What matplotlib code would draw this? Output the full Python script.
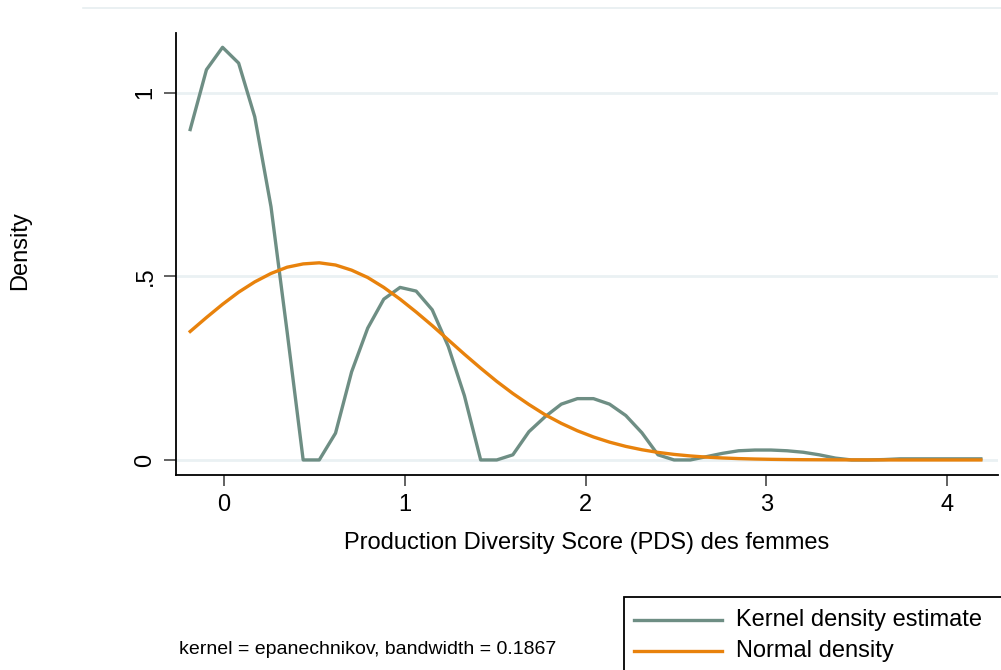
import matplotlib
matplotlib.use('Agg')
from matplotlib import pyplot as plt
from matplotlib.lines import Line2D
from matplotlib.patches import Rectangle

plt.rcParams['font.family'] = ['Liberation Sans', 'DejaVu Sans']

# grille d'évaluation (50 points)
x_grid = [-0.187, -0.097, -0.008, 0.081, 0.170, 0.260, 0.349, 0.438, 0.527, 0.617,
          0.706, 0.795, 0.884, 0.974, 1.063, 1.152, 1.241, 1.330, 1.420, 1.509,
          1.598, 1.687, 1.777, 1.866, 1.955, 2.044, 2.133, 2.223, 2.312, 2.401,
          2.490, 2.580, 2.669, 2.758, 2.847, 2.937, 3.026, 3.115, 3.204, 3.293,
          3.383, 3.472, 3.561, 3.650, 3.740, 3.829, 3.918, 4.007, 4.097, 4.187]

# densité par noyau
kernel_y = [0.900, 1.063, 1.124, 1.081, 0.935, 0.690, 0.350, 0.000, 0.000, 0.073,
            0.240, 0.359, 0.438, 0.470, 0.460, 0.409, 0.309, 0.175, 0.000, 0.000,
            0.014, 0.077, 0.118, 0.152, 0.167, 0.167, 0.152, 0.121, 0.074, 0.014,
            0.000, 0.000, 0.009, 0.018, 0.025, 0.027, 0.027, 0.025, 0.021, 0.014,
            0.005, 0.000, 0.000, 0.001, 0.003, 0.003, 0.003, 0.003, 0.003, 0.003]

# densité normale
normal_y = [0.350, 0.388, 0.424, 0.457, 0.485, 0.508, 0.525, 0.534, 0.537, 0.531,
            0.517, 0.497, 0.470, 0.438, 0.403, 0.366, 0.327, 0.288, 0.250, 0.214,
            0.181, 0.151, 0.123, 0.0997, 0.0795, 0.0626, 0.0485, 0.0369, 0.0278, 0.0206,
            0.0151, 0.0109, 0.0077, 0.0054, 0.0037, 0.0025, 0.0017, 0.0011, 0.0007, 0.0005,
            0.0003, 0.0002, 0.0001, 0.0001, 0.0, 0.0, 0.0, 0.0, 0.0, 0.0]

x_ticks = [0, 1, 2, 3, 4]
x_ticklabels = ['0', '1', '2', '3', '4']
y_ticks = [0, 0.5, 1]
y_ticklabels = ['0', '.5', '1']

KERNEL_COLOR = '#6E8E84'
NORMAL_COLOR = '#E8820C'
GRID_COLOR = '#EAF1F3'

fig = plt.figure(figsize=(10.01, 6.70), dpi=100)
ax = fig.add_axes([176 / 1001, 1 - 475 / 670, (998 - 176) / 1001, (475 - 33) / 670])

for y in y_ticks:
    ax.axhline(y, color=GRID_COLOR, linewidth=2, zorder=0)

ax.plot(x_grid, kernel_y, color=KERNEL_COLOR, linewidth=2.4, label='Kernel density estimate', zorder=3)
ax.plot(x_grid, normal_y, color=NORMAL_COLOR, linewidth=2.4, label='Normal density', zorder=3)

ax.set_xlim(-0.2655, 4.282)
ax.set_ylim(-0.041, 1.163)
ax.set_xticks(x_ticks)
ax.set_xticklabels(x_ticklabels)
ax.set_yticks(y_ticks)
ax.set_yticklabels(y_ticklabels, rotation=90, va='center')
ax.tick_params(axis='both', direction='out', labelsize=17, width=1.3, color='#555555')
ax.tick_params(axis='x', length=8, pad=6)
ax.tick_params(axis='y', length=9, pad=5)

for side in ['top', 'right']:
    ax.spines[side].set_visible(False)
for side in ['left', 'bottom']:
    ax.spines[side].set_linewidth(1.3)
    ax.spines[side].set_color('black')

ax.set_xlabel('Production Diversity Score (PDS) des femmes', fontsize=17, labelpad=11)
fig.text(20 / 1001, 1 - 251 / 670, 'Density', rotation=90, fontsize=17, ha='center', va='center')

# note en bas
fig.text(179 / 1001, 1 - 650 / 670, 'kernel = epanechnikov, bandwidth = 0.1867', fontsize=14, ha='left', va='center')

# ligne de bordure en haut
fig.add_artist(Line2D([83 / 1001, 1], [1 - 8 / 670, 1 - 8 / 670], color='#E6EEF0', linewidth=1.2))

# légende (encadré coupé par le bord)
fig.add_artist(Rectangle((624 / 1001, -0.01), 0.4, (1 - 597 / 670) + 0.01,
                         transform=fig.transFigure, fill=False, edgecolor='black', linewidth=1.3))
for i, (lab, col) in enumerate([('Kernel density estimate', KERNEL_COLOR), ('Normal density', NORMAL_COLOR)]):
    yy = 1 - (620 + 31 * i) / 670
    fig.add_artist(Line2D([634 / 1001, 722 / 1001], [yy, yy], color=col, linewidth=2.4))
    fig.text(736 / 1001, yy, lab, fontsize=17, ha='left', va='center')

fig.savefig('out.png', dpi=100)
